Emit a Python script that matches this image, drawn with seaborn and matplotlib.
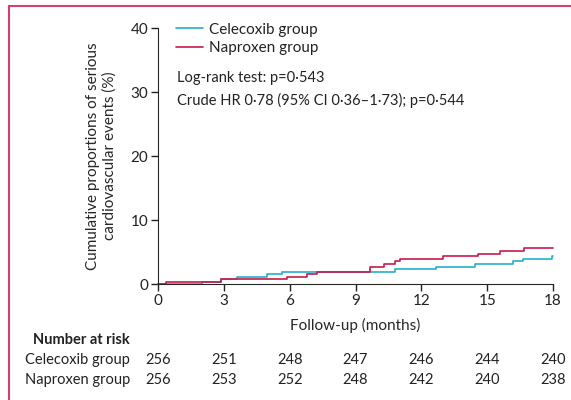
import numpy as np
import pandas as pd
import matplotlib.pyplot as plt
from matplotlib.lines import Line2D
import seaborn as sns

# step curves (months, cumulative %)
cele_months = [0, 2.02, 2.87, 3.62, 4.98, 5.64, 10.80, 12.65, 14.45, 16.16, 16.65, 17.97, 18]
cele_pct = [0, 0.39, 0.78, 1.17, 1.56, 1.95, 2.34, 2.73, 3.13, 3.52, 3.91, 4.30, 4.30]
napr_months = [0, 0.36, 2.87, 5.90, 6.78, 7.23, 9.66, 10.30, 10.80, 11.03, 12.97, 14.57, 15.59, 16.68, 18]
napr_pct = [0, 0.39, 0.78, 1.17, 1.56, 1.95, 2.73, 3.13, 3.52, 3.91, 4.30, 4.69, 5.08, 5.55, 5.55]

groups = ['Celecoxib group', 'Naproxen group']
risk_months = [0, 3, 6, 9, 12, 15, 18]
risk_cele = [256, 251, 248, 247, 246, 244, 240]
risk_napr = [256, 253, 252, 248, 242, 240, 238]

colors = {'Celecoxib group': '#27aecb', 'Naproxen group': '#c81a4b'}

df = pd.concat([
    pd.DataFrame({'month': cele_months, 'pct': cele_pct, 'group': groups[0]}),
    pd.DataFrame({'month': napr_months, 'pct': napr_pct, 'group': groups[1]}),
])

sns.set_style('ticks')
plt.rcParams['font.family'] = ['Lato', 'DejaVu Sans']
plt.rcParams['text.color'] = '#222222'

fig = plt.figure(figsize=(5.71, 4), dpi=100)
ax = fig.add_axes([158/571, 116/400, 395/571, 256/400])

sns.lineplot(data=df, x='month', y='pct', hue='group', palette=colors,
             estimator=None, drawstyle='steps-post', linewidth=1.2, ax=ax)

ax.set_xlim(0, 18)
ax.set_ylim(0, 40)
ax.set_xticks(risk_months)
ax.set_yticks([0, 10, 20, 30, 40])
ax.tick_params(labelsize=11, length=5, width=1, pad=2, colors='#222222')
sns.despine(ax=ax)
ax.spines['left'].set_bounds(0, 40)
ax.spines['bottom'].set_bounds(0, 18)
for ln in ax.lines:
    ln.set_clip_on(False)

ax.set_xlabel('Follow-up (months)', fontsize=11, labelpad=7)
ax.set_ylabel('Cumulative proportions of serious\ncardiovascular events (%)', fontsize=11)
ax.yaxis.set_label_coords(-0.105, 0.5)

ax.legend(loc='upper left', bbox_to_anchor=(0.03, 1.045), frameon=False,
          fontsize=11, handlelength=1.8, handletextpad=0.35, labelspacing=0.3,
          borderaxespad=0)

ax.text(0.048, 0.806, 'Log-rank test: p=0\u00b7543', transform=ax.transAxes, fontsize=10.5, va='center')
ax.text(0.048, 0.716, 'Crude HR 0\u00b778 (95% CI 0\u00b736\u20131\u00b773); p=0\u00b7544',
        transform=ax.transAxes, fontsize=10.5, va='center')

# number at risk table
tr = ax.get_xaxis_transform()
ax.text(-0.071, -0.219, 'Number at risk', transform=ax.transAxes, fontsize=10.5,
        fontweight='bold', ha='right', va='center')
for y, name, vals in [(-0.297, groups[0], risk_cele), (-0.375, groups[1], risk_napr)]:
    ax.text(-0.071, y, name, transform=ax.transAxes, fontsize=10.5, ha='right', va='center')
    for m, v in zip(risk_months, vals):
        ax.text(m, y, str(v), transform=tr, fontsize=10.5, ha='center', va='center')

# pink frame on the page
fc = '#d4406c'
fig.add_artist(Line2D([8.5/571, 8.5/571], [0, 1 - 5.5/400], transform=fig.transFigure, color=fc, lw=1.5))
fig.add_artist(Line2D([8.5/571, 1], [1 - 5.5/400, 1 - 5.5/400], transform=fig.transFigure, color=fc, lw=1.5))

fig.savefig('out.png', dpi=100)
